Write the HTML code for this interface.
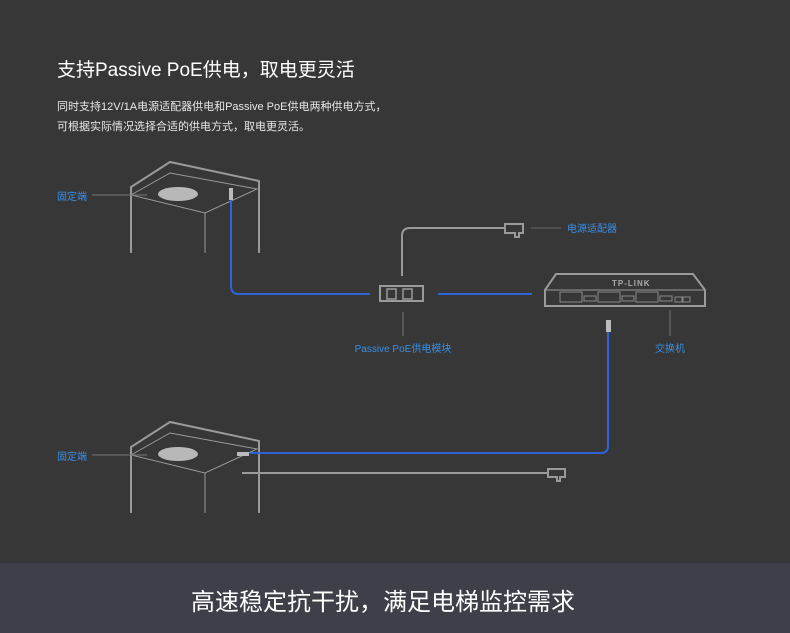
<!DOCTYPE html>
<html><head><meta charset="utf-8"><style>
html,body{margin:0;padding:0;background:#373737;}
body{width:790px;height:633px;overflow:hidden;position:relative;font-family:"Liberation Sans","Noto Sans CJK SC",sans-serif;}
svg{position:absolute;left:0;top:0;}
</style></head><body>
<svg width="790" height="633" viewBox="0 0 790 633" xmlns="http://www.w3.org/2000/svg" font-family="Liberation Sans, Noto Sans CJK SC, sans-serif">
<rect width="790" height="633" fill="#373737"/>
<rect y="563" width="790" height="70" fill="#3f3f49"/>
<text x="57" y="76" font-size="19" fill="#ffffff">支持Passive PoE供电，取电更灵活</text>
<text x="57" y="110" font-size="11" fill="#e8e8e8">同时支持12V/1A电源适配器供电和Passive PoE供电两种供电方式，</text>
<text x="57" y="130" font-size="11" fill="#e8e8e8">可根据实际情况选择合适的供电方式，取电更灵活。</text>

<!-- Room 1 -->
<g fill="none" stroke="#9a9a9a">
<polyline points="131,253 131,187 170,162 259,181 259,253" stroke-width="2"/>
<polygon points="131,195 170,173 257,189 205,213" stroke-width="1"/>
<line x1="205" y1="213" x2="205" y2="253" stroke-width="1"/>
<line x1="92" y1="195" x2="147" y2="195" stroke-width="1" stroke="#777"/>
</g>
<ellipse cx="178" cy="194" rx="20" ry="7" fill="#cfcfcf" opacity="0.85"/>
<rect x="229" y="188" width="4" height="12" fill="#bbb"/>
<text x="57" y="200" font-size="10" fill="#3a8ee6">固定端</text>
<path d="M231 200 V286 Q231 294 239 294 H370" fill="none" stroke="#2f63d8" stroke-width="2"/>

<!-- Room 2 -->
<g fill="none" stroke="#9a9a9a">
<polyline points="131,513 131,447 170,422 259,441 259,513" stroke-width="2"/>
<polygon points="131,455 170,433 257,449 205,473" stroke-width="1"/>
<line x1="205" y1="473" x2="205" y2="513" stroke-width="1"/>
<line x1="92" y1="455" x2="147" y2="455" stroke-width="1" stroke="#777"/>
</g>
<ellipse cx="178" cy="454" rx="20" ry="7" fill="#cfcfcf" opacity="0.85"/>
<rect x="237" y="452" width="12" height="4" fill="#bbb"/>
<text x="57" y="460" font-size="10" fill="#3a8ee6">固定端</text>
<line x1="242" y1="473" x2="548" y2="473" stroke="#9a9a9a" stroke-width="2"/>
<path d="M548 469 H565 V477 H560 V481 H557 V477 H548 Z" fill="none" stroke="#9a9a9a" stroke-width="2"/>

<!-- Module -->
<rect x="380" y="286" width="43" height="15" fill="none" stroke="#9a9a9a" stroke-width="2"/>
<rect x="387" y="289" width="9" height="10" fill="none" stroke="#9a9a9a" stroke-width="1.5"/>
<rect x="403" y="289" width="9" height="10" fill="none" stroke="#9a9a9a" stroke-width="1.5"/>
<path d="M402 276 V236 Q402 228 410 228 H505" fill="none" stroke="#9a9a9a" stroke-width="2"/>
<path d="M505 224 H523 V233 H519 V237 H515 V233 H505 Z" fill="none" stroke="#9a9a9a" stroke-width="2"/>
<line x1="531" y1="228" x2="561" y2="228" stroke="#666" stroke-width="1"/>
<text x="567" y="232" font-size="10" fill="#3a8ee6">电源适配器</text>
<line x1="403" y1="312" x2="403" y2="336" stroke="#777" stroke-width="1"/>
<text x="403" y="352" font-size="10" fill="#3a8ee6" text-anchor="middle">Passive PoE供电模块</text>
<line x1="438" y1="294" x2="532" y2="294" stroke="#2f63d8" stroke-width="2"/>

<!-- Switch -->
<path d="M545 290 L556 274 H693 L705 290 V306 H545 Z" fill="none" stroke="#9a9a9a" stroke-width="2"/>
<line x1="545" y1="290" x2="705" y2="290" stroke="#9a9a9a" stroke-width="1"/>
<text x="612" y="286" font-size="8" fill="#aaa" font-weight="bold" letter-spacing="1">TP-LINK</text>
<g fill="none" stroke="#8a8a8a" stroke-width="1">
<rect x="560" y="292" width="22" height="10"/><rect x="598" y="292" width="22" height="10"/><rect x="636" y="292" width="22" height="10"/>
<rect x="584" y="296" width="12" height="5"/><rect x="622" y="296" width="12" height="5"/><rect x="660" y="296" width="12" height="5"/>
<rect x="675" y="297" width="7" height="5"/><rect x="683" y="297" width="7" height="5"/>
</g>
<rect x="606" y="320" width="5" height="12" fill="#bbb"/>
<path d="M608 332 V446 Q608 453 601 453 H250" fill="none" stroke="#2f63d8" stroke-width="2"/>
<line x1="670" y1="310" x2="670" y2="336" stroke="#777" stroke-width="1"/>
<text x="670" y="352" font-size="10" fill="#3a8ee6" text-anchor="middle">交换机</text>

<text x="383" y="610" font-size="24" fill="#ffffff" text-anchor="middle">高速稳定抗干扰，满足电梯监控需求</text>
</svg>
</body></html>
